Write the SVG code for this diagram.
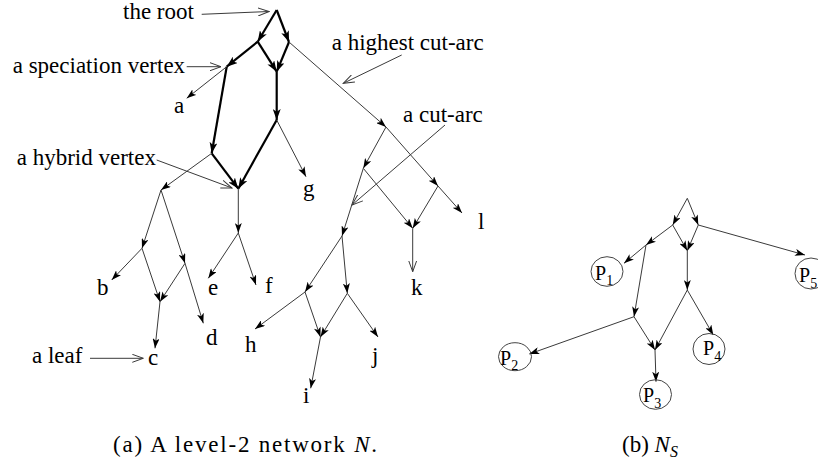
<svg xmlns="http://www.w3.org/2000/svg" width="818" height="461" viewBox="0 0 818 461">
<style>
.lbl{font-family:'Liberation Serif','Times New Roman',serif;font-size:23px;fill:#000}
.pl{font-family:'Liberation Serif','Times New Roman',serif;font-size:20px;fill:#000}
.sub{font-size:14px}
.cap{font-family:'Liberation Serif','Times New Roman',serif;font-size:23px;fill:#000}
.thin{stroke:#3a3a3a;stroke-width:1;fill:none;marker-end:url(#ah)}
.thick{stroke:#000;stroke-width:2.2;fill:none;marker-end:url(#ahb)}
.ann{stroke:#3a3a3a;stroke-width:1;fill:none;marker-end:url(#oa)}
.circ{fill:none;stroke:#444;stroke-width:1}
</style>
<defs>
<marker id="ah" viewBox="0 0 10 7" refX="10" refY="3.5" markerWidth="10" markerHeight="7" markerUnits="userSpaceOnUse" orient="auto"><path d="M0,0 L10,3.5 L0,7 L2.5,3.5 z" fill="#000"/></marker>
<marker id="ahb" viewBox="0 0 11 8" refX="11" refY="4" markerWidth="11" markerHeight="8" markerUnits="userSpaceOnUse" orient="auto"><path d="M0,0 L11,4 L0,8 L2.8,4 z" fill="#000"/></marker>
<marker id="oa" viewBox="0 0 12 9" refX="11" refY="4.5" markerWidth="12" markerHeight="9" markerUnits="userSpaceOnUse" orient="auto"><path d="M0,0.5 L11,4.5 L0,8.5" fill="none" stroke="#3a3a3a" stroke-width="1"/></marker>
</defs>

<g id="connectors">
<line class="thick" x1="276.7" y1="10" x2="257.7" y2="41.7"/>
<line class="thick" x1="276.7" y1="10" x2="289" y2="42"/>
<line class="thick" x1="257.7" y1="41.7" x2="226.7" y2="66.7"/>
<line class="thick" x1="257.7" y1="41.7" x2="276.7" y2="71.7"/>
<line class="thick" x1="289" y1="42" x2="276.7" y2="71.7"/>
<line class="thick" x1="276.7" y1="71.7" x2="276.7" y2="120"/>
<line class="thick" x1="226.7" y1="66.7" x2="211.7" y2="153.3"/>
<line class="thick" x1="211.7" y1="153.3" x2="238.3" y2="188.7"/>
<line class="thick" x1="276.7" y1="120" x2="238.3" y2="188.7"/>
<line class="thin" x1="226.7" y1="66.7" x2="186.7" y2="98.3"/>
<line class="thin" x1="276.7" y1="120" x2="306" y2="176.7"/>
<line class="thin" x1="211.7" y1="153.3" x2="161" y2="190"/>
<line class="thin" x1="238.3" y1="188.7" x2="238.3" y2="233"/>
<line class="thin" x1="238.3" y1="233" x2="208.3" y2="278.3"/>
<line class="thin" x1="238.3" y1="233" x2="256" y2="285"/>
<line class="thin" x1="161" y1="190" x2="142" y2="248.3"/>
<line class="thin" x1="161" y1="190" x2="185" y2="263.3"/>
<line class="thin" x1="185" y1="263.3" x2="203.3" y2="323.3"/>
<line class="thin" x1="142" y1="248.3" x2="111.7" y2="280"/>
<line class="thin" x1="142" y1="248.3" x2="160" y2="301.7"/>
<line class="thin" x1="185" y1="263.3" x2="160" y2="301.7"/>
<line class="thin" x1="160" y1="301.7" x2="155" y2="348.3"/>
<line class="thin" x1="289" y1="42" x2="386" y2="127"/>
<line class="thin" x1="386" y1="127" x2="363.3" y2="168.3"/>
<line class="thin" x1="386" y1="127" x2="438" y2="186"/>
<line class="thin" x1="438" y1="186" x2="462" y2="213"/>
<line class="thin" x1="438" y1="186" x2="412.7" y2="228.3"/>
<line class="thin" x1="363.3" y1="168.3" x2="412.7" y2="228.3"/>
<line class="ann" x1="412.7" y1="228.3" x2="412.7" y2="271.7"/>
<line class="thin" x1="363.3" y1="168.3" x2="342" y2="236"/>
<line class="thin" x1="342" y1="236" x2="305" y2="292"/>
<line class="thin" x1="342" y1="236" x2="347.3" y2="293.3"/>
<line class="thin" x1="305" y1="292" x2="255" y2="329"/>
<line class="thin" x1="305" y1="292" x2="320.5" y2="337"/>
<line class="thin" x1="347.3" y1="293.3" x2="320.5" y2="337"/>
<line class="thin" x1="347.3" y1="293.3" x2="378" y2="337"/>
<line class="thin" x1="320.5" y1="337" x2="310.7" y2="388.3"/>
<line class="ann" x1="201.7" y1="14.3" x2="269" y2="11.5"/>
<line class="ann" x1="186.7" y1="66.7" x2="221" y2="66.7"/>
<line class="ann" x1="156.7" y1="160" x2="232" y2="188"/>
<line class="ann" x1="401.7" y1="55" x2="343.3" y2="83.3"/>
<line class="ann" x1="445" y1="125" x2="352" y2="205"/>
<line class="ann" x1="90" y1="358.3" x2="143.3" y2="358.3"/>
<line class="thin" x1="687.3" y1="198.3" x2="672.7" y2="225"/>
<line class="thin" x1="687.3" y1="198.3" x2="698.3" y2="225"/>
<line class="thin" x1="672.7" y1="225" x2="646" y2="245"/>
<line class="thin" x1="672.7" y1="225" x2="687.3" y2="250.7"/>
<line class="thin" x1="698.3" y1="225" x2="687.3" y2="250.7"/>
<line class="thin" x1="698.3" y1="225" x2="805" y2="255"/>
<line class="thin" x1="646" y1="245" x2="624" y2="263.3"/>
<line class="thin" x1="646" y1="245" x2="634" y2="316.7"/>
<line class="thin" x1="687.3" y1="250.7" x2="687.3" y2="290"/>
<line class="thin" x1="634" y1="316.7" x2="529.3" y2="354"/>
<line class="thin" x1="634" y1="316.7" x2="655" y2="350"/>
<line class="thin" x1="687.3" y1="290" x2="655" y2="350"/>
<line class="thin" x1="687.3" y1="290" x2="713.3" y2="335"/>
<line class="thin" x1="655" y1="350" x2="656" y2="381.7"/>
</g>

<g id="annotations">
<text class="lbl" x="123" y="19">the root</text>
<text class="lbl" x="12.7" y="73">a speciation vertex</text>
<text class="lbl" x="16.7" y="165">a hybrid vertex</text>
<text class="lbl" x="331.7" y="50">a highest cut-arc</text>
<text class="lbl" x="403" y="122">a cut-arc</text>
<text class="lbl" x="32" y="363">a leaf</text>
</g>

<g id="leaf-a"><text class="lbl" x="174" y="113">a</text></g>
<g id="leaf-b"><text class="lbl" x="97" y="295">b</text></g>
<g id="leaf-c"><text class="lbl" x="148" y="365">c</text></g>
<g id="leaf-d"><text class="lbl" x="206" y="345">d</text></g>
<g id="leaf-e"><text class="lbl" x="208" y="295">e</text></g>
<g id="leaf-f"><text class="lbl" x="265" y="293">f</text></g>
<g id="leaf-g"><text class="lbl" x="303" y="196">g</text></g>
<g id="leaf-h"><text class="lbl" x="245" y="352">h</text></g>
<g id="leaf-i"><text class="lbl" x="303" y="403">i</text></g>
<g id="leaf-j"><text class="lbl" x="372" y="363">j</text></g>
<g id="leaf-k"><text class="lbl" x="411" y="295">k</text></g>
<g id="leaf-l"><text class="lbl" x="478" y="229">l</text></g>

<g id="P1"><ellipse class="circ" cx="607" cy="271.5" rx="16" ry="14.8"/><text class="pl" x="595" y="280">P<tspan class="sub" dy="5">1</tspan></text></g>
<g id="P2"><ellipse class="circ" cx="515" cy="356.7" rx="16.5" ry="14"/><text class="pl" x="500" y="365">P<tspan class="sub" dy="5">2</tspan></text></g>
<g id="P3"><ellipse class="circ" cx="655.5" cy="394.5" rx="16" ry="14.8"/><text class="pl" x="643" y="402">P<tspan class="sub" dy="6">3</tspan></text></g>
<g id="P4"><ellipse class="circ" cx="709" cy="349" rx="16" ry="15.5"/><text class="pl" x="703" y="355">P<tspan class="sub" dy="6">4</tspan></text></g>
<g id="P5"><ellipse class="circ" cx="811" cy="273.5" rx="16" ry="15.5"/><text class="pl" x="799" y="282">P<tspan class="sub" dy="6">5</tspan></text></g>

<g id="captions">
<text class="cap" x="113" y="452" textLength="264" lengthAdjust="spacing">(a) A level-2 network <tspan font-style="italic">N</tspan>.</text>
<text class="cap" x="622" y="452">(b) <tspan font-style="italic">N</tspan><tspan font-style="italic" font-size="16" dy="5">S</tspan></text>
</g>
</svg>
